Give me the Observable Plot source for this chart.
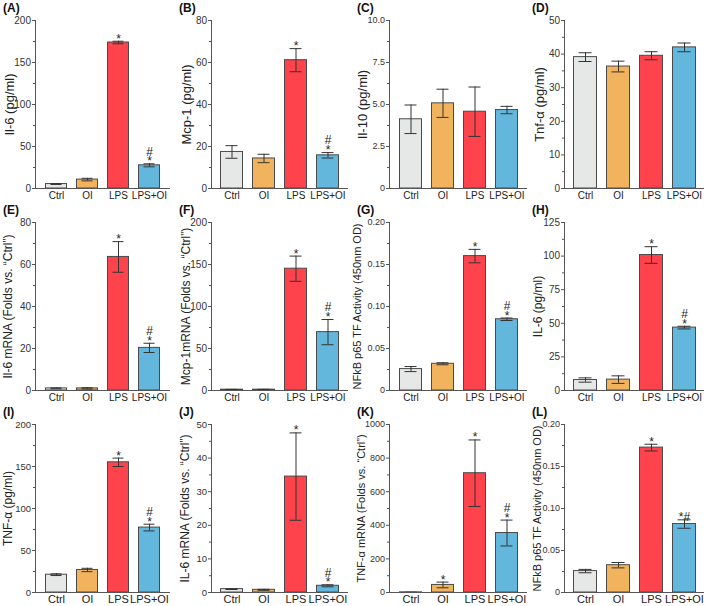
<!DOCTYPE html>
<html><head><meta charset="utf-8">
<script src="https://cdn.jsdelivr.net/npm/d3@7"></script>
<script src="https://cdn.jsdelivr.net/npm/@observablehq/plot@0.6"></script>
<style>
body{margin:0;background:#fff;font-family:"Liberation Sans",Arial,sans-serif;}
#wrap{position:relative;width:709px;height:606px;overflow:hidden;background:#fff;}
.panel{position:absolute;}
.letter{position:absolute;font-weight:bold;font-size:12px;color:#111;line-height:12px;}
</style></head><body><div id="wrap"></div>
<script>
const groups = ["Ctrl", "OI", "LPS", "LPS+OI"];
const groupColors = ["#e6e7e7", "#f2b35f", "#fe434c", "#63b7dc"];
const letters = ["(A)","(B)","(C)","(D)","(E)","(F)","(G)","(H)","(I)","(J)","(K)","(L)"];
const yTitles = [
  "Il-6 (pg/ml)", "Mcp-1 (pg/ml)", "Il-10 (pg/ml)", "Tnf-\u03b1 (pg/ml)",
  "Il-6 mRNA (Folds vs. \u201cCtrl\u201d)", "Mcp-1mRNA (Folds vs. \u201cCtrl\u201d)", "NFkB p65 TF Activity (450nm OD)", "IL-6 (pg/ml)",
  "TNF-\u03b1 (pg/ml)", "IL-6 mRNA (Folds vs. \u201cCtrl\u201d)", "TNF-\u03b1 mRNA (Folds vs. \u201cCtrl\u201d)", "NFkB p65 TF Activity (450nm OD)"
];

// Panel A
const meanA = [5.3, 10.6, 173.8, 27.6];
const errA  = [0.5, 1.5, 1.5, 1.8];
const noteA = ["", "", "*", "#\n*"];
const ticksA = [0, 50, 100, 150, 200];
const tickLabelsA = ["0", "50", "100", "150", "200"];
// Panel B
const meanB = [17.4, 14.3, 61.1, 15.8];
const errB  = [3.0, 2.0, 5.5, 1.3];
const noteB = ["", "", "*", "#\n*"];
const ticksB = [0, 20, 40, 60, 80];
const tickLabelsB = ["0", "20", "40", "60", "80"];
// Panel C
const meanC = [4.12, 5.07, 4.57, 4.67];
const errC  = [0.85, 0.84, 1.47, 0.22];
const noteC = ["", "", "", ""];
const ticksC = [0, 2.5, 5, 7.5, 10];
const tickLabelsC = ["0", "2.5", "5.0", "7.5", "10.0"];
// Panel D
const meanD = [39.1, 36.3, 39.5, 42.0];
const errD  = [1.3, 1.6, 1.2, 1.3];
const noteD = ["", "", "", ""];
const ticksD = [0, 10, 20, 30, 40, 50];
const tickLabelsD = ["0", "10", "20", "30", "40", "50"];
// Panel E
const meanE = [1.0, 1.0, 63.6, 20.3];
const errE  = [0.2, 0.3, 7.3, 2.2];
const noteE = ["", "", "*", "#\n*"];
const ticksE = [0, 20, 40, 60, 80];
const tickLabelsE = ["0", "20", "40", "60", "80"];
// Panel F
const meanF = [1.0, 1.0, 145, 69.5];
const errF  = [0.3, 0.4, 15, 15];
const noteF = ["", "", "*", "#\n*"];
const ticksF = [0, 50, 100, 150, 200];
const tickLabelsF = ["0", "50", "100", "150", "200"];
// Panel G
const meanG = [0.0255, 0.0318, 0.160, 0.0848];
const errG  = [0.003, 0.0012, 0.008, 0.0015];
const noteG = ["", "", "*", "#\n*"];
const ticksG = [0, 0.05, 0.10, 0.15, 0.20];
const tickLabelsG = ["0", "0.05", "0.10", "0.15", "0.20"];
// Panel H
const meanH = [7.8, 8.1, 100.8, 46.8];
const errH  = [1.6, 2.8, 6.2, 1.0];
const noteH = ["", "", "*", "#\n*"];
const ticksH = [0, 25, 50, 75, 100, 125];
const tickLabelsH = ["0", "25", "50", "75", "100", "125"];
// Panel I
const meanI = [21.2, 26.8, 155, 77.3];
const errI  = [1.0, 2.0, 5.0, 4.0];
const noteI = ["", "", "*", "#\n*"];
const ticksI = [0, 50, 100, 150, 200];
const tickLabelsI = ["0", "50", "100", "150", "200"];
// Panel J
const meanJ = [1.0, 0.8, 34.5, 2.0];
const errJ  = [0.1, 0.15, 13, 0.3];
const noteJ = ["", "", "*", "#\n*"];
const ticksJ = [0, 10, 20, 30, 40, 50];
const tickLabelsJ = ["0", "10", "20", "30", "40", "50"];
// Panel K
const meanK = [1.0, 45, 710, 354];
const errK  = [0.2, 17, 198, 77];
const noteK = ["", "*", "*", "#\n*"];
const ticksK = [0, 200, 400, 600, 800, 1000];
const tickLabelsK = ["0", "200", "400", "600", "800", "1000"];
// Panel L
const meanL = [0.0255, 0.0325, 0.1725, 0.0815];
const errL  = [0.002, 0.0032, 0.004, 0.005];
const noteL = ["", "", "*", "*#"];
const ticksL = [0, 0.05, 0.10, 0.15, 0.20];
const tickLabelsL = ["0", "0.05", "0.10", "0.15", "0.20"];

const panels = [
  [meanA, errA, noteA, ticksA, tickLabelsA],
  [meanB, errB, noteB, ticksB, tickLabelsB],
  [meanC, errC, noteC, ticksC, tickLabelsC],
  [meanD, errD, noteD, ticksD, tickLabelsD],
  [meanE, errE, noteE, ticksE, tickLabelsE],
  [meanF, errF, noteF, ticksF, tickLabelsF],
  [meanG, errG, noteG, ticksG, tickLabelsG],
  [meanH, errH, noteH, ticksH, tickLabelsH],
  [meanI, errI, noteI, ticksI, tickLabelsI],
  [meanJ, errJ, noteJ, ticksJ, tickLabelsJ],
  [meanK, errK, noteK, ticksK, tickLabelsK],
  [meanL, errL, noteL, ticksL, tickLabelsL]
];

// layout (not data)
const wrap = document.getElementById("wrap");
const colLeft = [0, 176, 354, 529];
const colMarginRight = [7, 5, 4, 2];
const rowTop = [0, 202, 404];
const titleOffset = [-26, -25, -27, -25, -27, -25, -32, -26, -27, -26, -28, -27];
const axisColor = "#555";
const font = "'Liberation Sans', Arial, sans-serif";

panels.forEach(([means, errs, notes, ticks, tickLabels], i) => {
  const col = i % 4, row = Math.floor(i / 4);
  const data = groups.map((g, j) => ({g, m: means[j], e: errs[j], n: notes[j]}));
  const yMax = ticks[ticks.length - 1];
  const minor = ticks.slice(1).map((t, k) => (t + ticks[k]) / 2);
  const xfs = row === 2 ? 11 : 10;
  const longest = d3.max(tickLabels, s => s.length);
  const yfs = longest >= 4 ? 9 : (row === 2 ? 9.5 : 10);
  const title = yTitles[i];
  const titleSize = title.length > 28 ? 11 : (row === 0 ? 13 : 12);
  const plot = Plot.plot({
    width: 177, height: 202,
    marginLeft: 35, marginRight: colMarginRight[col], marginTop: 20, marginBottom: 14,
    style: {fontFamily: font, fontSize: xfs + "px", color: "#222", overflow: "visible", background: "transparent"},
    x: {domain: groups, padding: 0.22, axis: null},
    y: {domain: [0, yMax], axis: null},
    color: {domain: groups, range: groupColors},
    marks: [
      Plot.barY(data, {x: "g", y: "m", fill: "g", stroke: "#4a4a4a", strokeWidth: 1, insetLeft: 1.5, insetRight: 1.5}),
      Plot.ruleX(data, {x: "g", y1: d => d.m - d.e, y2: d => d.m + d.e, stroke: "#333", strokeWidth: 1}),
      Plot.tickY(data, {x: "g", y: d => d.m + d.e, insetLeft: 6.5, insetRight: 6.5, stroke: "#333", strokeWidth: 1}),
      Plot.tickY(data, {x: "g", y: d => d.m - d.e, insetLeft: 6.5, insetRight: 6.5, stroke: "#333", strokeWidth: 1}),
      Plot.text(data.filter(d => d.n), {x: "g", y: d => d.m + d.e, text: "n", lineAnchor: "bottom", lineHeight: 0.8, dy: 1.5, fontSize: 12, fill: "#222"}),
      Plot.axisY({ticks, tickFormat: d => tickLabels[ticks.indexOf(d)], tickSize: 3, tickPadding: 1.5, label: null, stroke: axisColor, fill: "#333", fontSize: yfs}),
      Plot.axisY({ticks: minor, tickFormat: () => "", tickSize: 2, label: null, stroke: axisColor}),
      Plot.axisX({tickSize: 0, tickPadding: 3, label: null, fill: "#222"}),
      Plot.frame({anchor: "left", stroke: axisColor}),
      Plot.ruleY([0], {stroke: axisColor}),
      Plot.text([title], {frameAnchor: "left", rotate: -90, dx: titleOffset[i], textAnchor: "middle", lineAnchor: "middle", text: d => d, fontSize: titleSize, fill: "#222"})
    ]
  });
  const div = document.createElement("div");
  div.className = "panel";
  div.style.left = colLeft[col] + "px";
  div.style.top = rowTop[row] + "px";
  div.appendChild(plot);
  wrap.appendChild(div);
  const lab = document.createElement("div");
  lab.className = "letter";
  lab.textContent = letters[i];
  lab.style.left = (colLeft[col] + 3) + "px";
  lab.style.top = (rowTop[row] + 2) + "px";
  wrap.appendChild(lab);
});
</script></body></html>
